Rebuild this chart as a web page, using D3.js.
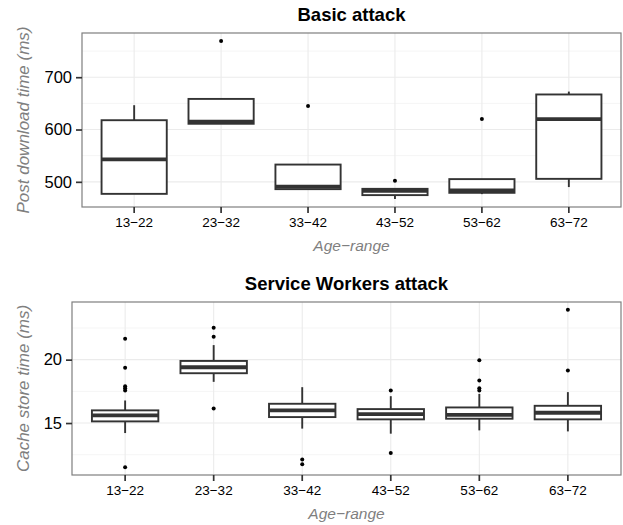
<!DOCTYPE html>
<html>
<head>
<meta charset="utf-8">
<script src="https://cdn.jsdelivr.net/npm/d3@7"></script>
<style>
  body { margin: 0; background: #fff; }
  text { font-family: "Liberation Sans", Arial, Helvetica, sans-serif; }
</style>
</head>
<body>
<div id="chart"></div>
<script>
// categories
var ageRanges = ["13\u221222", "23\u221232", "33\u221242", "43\u221252", "53\u221262", "63\u221272"];

// Basic attack (post download time, ms)
var basicLow  = [477, 611, 486, 467, 476.5, 490];
var basicQ1   = [477, 611, 486, 474.6, 479, 505.7];
var basicMed  = [543, 615, 491, 482.8, 483.5, 620];
var basicQ3   = [617.8, 658.5, 533, 486.6, 505.2, 667];
var basicHigh = [646.5, 658.5, 533, 486.6, 505.2, 672.5];
var basicOutliers = [[], [769.4], [645], [501.9], [620], []];
var basicTicks = [500, 600, 700];
var basicMinor = [550, 650, 750];

// Service Workers attack (cache store time, ms)
var swLow  = [14.21, 18.25, 14.56, 14.16, 14.42, 14.34];
var swQ1   = [15.13, 18.93, 15.47, 15.29, 15.34, 15.29];
var swMed  = [15.6, 19.4, 16.0, 15.7, 15.65, 15.81];
var swQ3   = [16.0, 19.9, 16.52, 16.1, 16.23, 16.36];
var swHigh = [16.78, 21.15, 17.83, 17.12, 17.3, 17.44];
var swOutliers = [
    [21.65, 19.37, 17.9, 17.75, 17.56, 11.52],
    [22.51, 21.81, 16.15],
    [12.12, 11.75],
    [17.56, 12.64],
    [19.95, 18.35, 17.75, 17.56],
    [23.93, 19.14]
];
var swTicks = [15, 20];
var swMinor = [12.5, 17.5, 22.5];

var W = 623, H = 525;

var svg = d3.select("#chart")
    .append("svg")
    .attr("width", W)
    .attr("height", H);

function drawPanel(p) {
    var xScale = d3.scaleBand()
        .domain(ageRanges)
        .range([p.left, p.right])
        .paddingOuter(0.1)
        .paddingInner(0);

    // ggplot style 5% expansion of the data range
    var all = p.low.concat(p.high).concat(d3.merge(p.outliers));
    var ext = d3.extent(all);
    var pad = (ext[1] - ext[0]) * 0.05;
    var yScale = d3.scaleLinear()
        .domain([ext[0] - pad, ext[1] + pad])
        .range([p.bottom, p.top]);

    var g = svg.append("g");

    // panel background
    g.append("rect")
        .attr("x", p.left).attr("y", p.top)
        .attr("width", p.right - p.left).attr("height", p.bottom - p.top)
        .attr("fill", "#fff");

    // minor grid
    g.selectAll(".minor")
        .data(p.minor)
        .join("line")
        .attr("x1", p.left).attr("x2", p.right)
        .attr("y1", d => yScale(d)).attr("y2", d => yScale(d))
        .attr("stroke", "#f5f5f5").attr("stroke-width", 1);

    // major grid
    g.selectAll(".majory")
        .data(p.ticks)
        .join("line")
        .attr("x1", p.left).attr("x2", p.right)
        .attr("y1", d => yScale(d)).attr("y2", d => yScale(d))
        .attr("stroke", "#ebebeb").attr("stroke-width", 1.1);

    var cx = d => xScale(d) + xScale.bandwidth() / 2;
    g.selectAll(".majorx")
        .data(ageRanges)
        .join("line")
        .attr("x1", cx).attr("x2", cx)
        .attr("y1", p.top).attr("y2", p.bottom)
        .attr("stroke", "#ebebeb").attr("stroke-width", 1.1);

    var bw = xScale.bandwidth() * 0.75;
    var boxes = g.selectAll(".box")
        .data(ageRanges)
        .join("g");

    // whiskers
    boxes.append("line")
        .attr("x1", cx).attr("x2", cx)
        .attr("y1", (d, i) => yScale(p.high[i]))
        .attr("y2", (d, i) => yScale(p.q3[i]))
        .attr("stroke", "#333").attr("stroke-width", 1.9);
    boxes.append("line")
        .attr("x1", cx).attr("x2", cx)
        .attr("y1", (d, i) => yScale(p.q1[i]))
        .attr("y2", (d, i) => yScale(p.low[i]))
        .attr("stroke", "#333").attr("stroke-width", 1.9);

    // box
    boxes.append("rect")
        .attr("x", d => cx(d) - bw / 2)
        .attr("width", bw)
        .attr("y", (d, i) => yScale(p.q3[i]))
        .attr("height", (d, i) => yScale(p.q1[i]) - yScale(p.q3[i]))
        .attr("fill", "#fff")
        .attr("stroke", "#333").attr("stroke-width", 1.9);

    // median
    boxes.append("line")
        .attr("x1", d => cx(d) - bw / 2).attr("x2", d => cx(d) + bw / 2)
        .attr("y1", (d, i) => yScale(p.med[i]))
        .attr("y2", (d, i) => yScale(p.med[i]))
        .attr("stroke", "#333").attr("stroke-width", 3.8);

    // outliers
    boxes.each(function(d, i) {
        d3.select(this).selectAll("circle")
            .data(p.outliers[i])
            .join("circle")
            .attr("cx", cx(d))
            .attr("cy", v => yScale(v))
            .attr("r", 2)
            .attr("fill", "#000");
    });

    // panel border
    g.append("rect")
        .attr("x", p.left).attr("y", p.top)
        .attr("width", p.right - p.left).attr("height", p.bottom - p.top)
        .attr("fill", "none")
        .attr("stroke", "#7f7f7f").attr("stroke-width", 1.2);

    // axes
    var yAxis = g.append("g")
        .attr("transform", "translate(" + p.left + ",0)")
        .call(d3.axisLeft(yScale).tickValues(p.ticks).tickSize(6).tickPadding(4));
    yAxis.select(".domain").remove();
    yAxis.selectAll("line").attr("stroke", "#333").attr("stroke-width", 1.7);
    yAxis.selectAll("text").attr("fill", "#000").style("font-size", "16.5px");

    var xAxis = g.append("g")
        .attr("transform", "translate(0," + p.bottom + ")")
        .call(d3.axisBottom(xScale).tickSize(6).tickPadding(4));
    xAxis.select(".domain").remove();
    xAxis.selectAll("line").attr("stroke", "#333").attr("stroke-width", 1.7);
    xAxis.selectAll("text").attr("fill", "#000").style("font-size", "13.5px");

    // title
    g.append("text")
        .attr("x", (p.left + p.right) / 2)
        .attr("y", p.top - 12)
        .attr("text-anchor", "middle")
        .style("font-size", "18.5px")
        .style("font-weight", "bold")
        .text(p.title);

    // x label
    g.append("text")
        .attr("x", (p.left + p.right) / 2)
        .attr("y", p.bottom + 44)
        .attr("text-anchor", "middle")
        .attr("fill", "#7f7f7f")
        .style("font-size", "15.5px")
        .style("font-style", "italic")
        .text("Age\u2212range");

    // y label
    g.append("text")
        .attr("transform", "translate(29," + ((p.top + p.bottom) / 2) + ") rotate(-90)")
        .attr("text-anchor", "middle")
        .attr("fill", "#7f7f7f")
        .style("font-size", "17px")
        .style("font-style", "italic")
        .text(p.ylabel);
}

drawPanel({
    left: 82, right: 621, top: 33, bottom: 207,
    low: basicLow, q1: basicQ1, med: basicMed, q3: basicQ3, high: basicHigh,
    outliers: basicOutliers, ticks: basicTicks, minor: basicMinor,
    title: "Basic attack", ylabel: "Post download time (ms)"
});

drawPanel({
    left: 72, right: 621, top: 302, bottom: 475,
    low: swLow, q1: swQ1, med: swMed, q3: swQ3, high: swHigh,
    outliers: swOutliers, ticks: swTicks, minor: swMinor,
    title: "Service Workers attack", ylabel: "Cache store time (ms)"
});
</script>
</body>
</html>
